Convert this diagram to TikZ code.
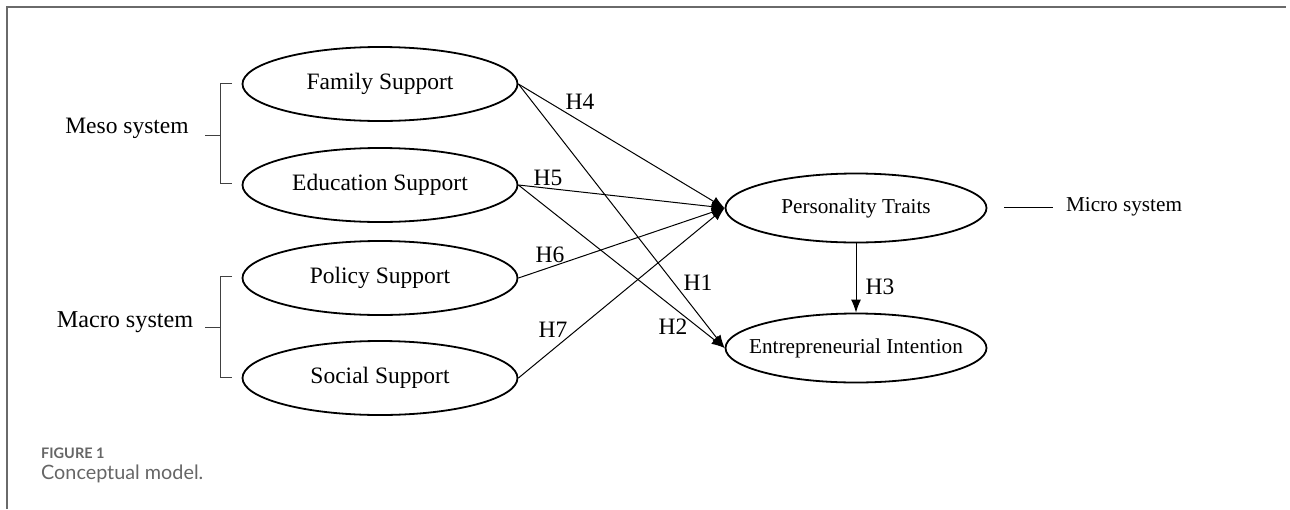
\documentclass[tikz,border=0pt]{standalone}
\usepackage{fontspec}
\setmainfont{Liberation Serif}
\newfontfamily\capfont{Lato}
\usetikzlibrary{shapes.geometric,arrows.meta}
\definecolor{capgray}{HTML}{666666}
\definecolor{framegray}{HTML}{6A6A6A}
\begin{document}
\begin{tikzpicture}[x=1pt,y=-1pt,
  every node/.style={font=\fontsize{23.5}{26}\selectfont},
  every label/.style={font=\fontsize{23.5}{26}\selectfont,inner sep=0pt},
  rfont/.style={font=\fontsize{21.2}{24}\selectfont},
  oval/.style={ellipse,draw,line width=1.8pt,inner sep=0pt},
  smallov/.style={oval,minimum width=275pt,minimum height=74pt},
  bigov/.style={oval,minimum width=261pt,minimum height=69pt},
  link/.style={line width=1pt,-{Latex[length=13pt,width=10pt]}},
  hlab/.style={inner sep=0pt},
  brk/.style={line width=1pt,draw=black!75}
]
\useasboundingbox (0,0) rectangle (1290,509);
% frame
\draw[framegray,line width=1.6pt] (7,509) -- (7,7) -- (1286,7);
% left ovals
\node[smallov,label=center:{Family Support}] (fs) at (380,84) {};
\node[smallov,label=center:{Education Support}] (es) at (380,185) {};
\node[smallov,label=center:{Policy Support}] (ps) at (380,278) {};
\node[smallov,label=center:{Social Support}] (ss) at (380,378) {};
% right ovals
\node[bigov,label={[rfont]center:{Personality Traits}}] (pt) at (856,208) {};
\node[bigov,label={[rfont]center:{Entrepreneurial Intention}}] (ei) at (856,348) {};
% system labels
\node (meso) at (127,128) {Meso system};
\node[font=\fontsize{24.2}{27}\selectfont] (macro) at (125,322) {Macro system};
\node[rfont] (micro) at (1124,207) {Micro system};
% brackets
\coordinate (mt) at (232,83); \coordinate (mb) at (232,183); \coordinate (mm) at (205,135);
\draw[brk] (mt) -- (220,83) -- (220,183) -- (mb);
\draw[brk] (mm) -- (220,135);
\coordinate (at) at (232,276); \coordinate (ab) at (232,377); \coordinate (am) at (205,327);
\draw[brk] (at) -- (220,276) -- (220,377) -- (ab);
\draw[brk] (am) -- (220,327);
\coordinate (ml) at (1004,207);
\coordinate (mr) at (1053,207);
\draw[line width=1pt] (ml) -- (mr);
% connectors
\draw[link] (fs.east) -- (pt.west);
\draw[link] (fs.east) -- (ei.west);
\draw[link] (es.east) -- (pt.west);
\draw[link] (es.east) -- (ei.west);
\draw[link] (ps.east) -- (pt.west);
\draw[link] (ss.east) -- (pt.west);
\draw[link] (pt.south) -- (ei.north);
% hypothesis labels
\node[hlab] (h4) at (580,102) {H4};
\node[hlab] (h5) at (548,178) {H5};
\node[hlab] (h6) at (550,255) {H6};
\node[hlab] (h7) at (553,330) {H7};
\node[hlab] (h1) at (698,283) {H1};
\node[hlab] (h2) at (673,327) {H2};
\node[hlab] (h3) at (880,287) {H3};
% caption
\node[anchor=west,inner sep=0pt,text=capgray,font=\capfont\bfseries\fontsize{14.5}{16}\selectfont] (fig) at (41,453) {FIGURE 1};
\node[anchor=west,inner sep=0pt,text=capgray,font=\capfont\fontsize{19.8}{22}\selectfont] (cap) at (41,474) {Conceptual model.};
\end{tikzpicture}
\end{document}
